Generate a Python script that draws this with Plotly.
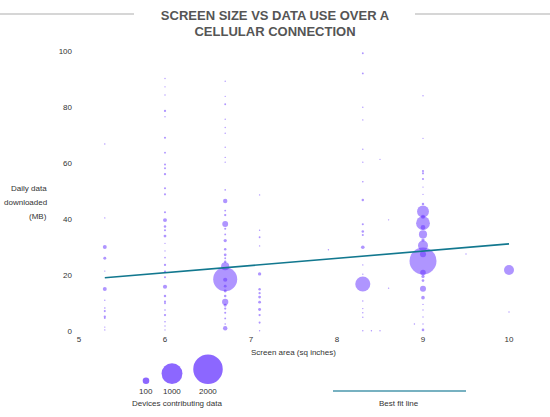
import numpy as np
import plotly.graph_objects as go

# ---------------- data ----------------
# screen area (sq inches), daily MB, devices contributing
col_53_y = [66.8, 40.4, 30, 26, 21.4, 15, 11, 8.2, 7.1, 5.1, 4.6, 1.4, 0.4]
col_53_n = [1, 2, 36, 20, 3, 36, 1, 6, 10, 12, 8, 4, 2]

col_60_y = [90.2, 87.2, 84.3, 78.6, 76.5, 69, 63.7, 59.5, 58.1, 56, 51, 48.8, 42.4, 39.6, 37.3, 36,
            33.9, 31.3, 28.6, 26.2, 23.6, 21.2, 19.2, 15.8, 12.5, 10.5, 9.9, 7.5, 5.7, 3.3, 1.8, 0.4]
col_60_n = [3, 2, 3, 12, 2, 10, 8, 9, 9, 12, 10, 10, 10, 36, 14, 10,
            18, 4, 4, 6, 12, 12, 10, 40, 14, 10, 8, 6, 12, 6, 4, 4]

col_67_y = [100.6, 89.2, 83.8, 81, 75.6, 72.7, 70.6, 65.6, 62, 60.3, 50.4, 46.4, 43, 41.4, 38.2, 36.5,
            34.5, 32.3, 29.2, 27.2, 26, 24.7, 23.1, 18.5, 18.3, 16, 14.3, 12.5, 10.4, 9.2, 8, 6.5,
            4.5, 2.5, 1.0]
col_67_n = [6, 2, 4, 8, 2, 4, 4, 4, 4, 4, 6, 45, 8, 12, 80, 10,
            8, 24, 14, 18, 8, 14, 150, 1320, 40, 18, 20, 14, 90, 18, 12, 10,
            8, 6, 45]

col_71_y = [48.6, 36, 33.5, 30.4, 20.4, 14.9, 13.5, 12.1, 10.3, 7.7, 5.7, 3, 0.1]
col_71_n = [1, 2, 8, 2, 26, 14, 12, 18, 18, 20, 12, 10, 2]

col_83_y = [99.2, 92, 79.9, 75.4, 64.9, 60.3, 53.3, 46.8, 38.1, 35.5, 34.3, 29.9, 23.6, 20.3, 16.8,
            10.7, 8, 6.5, 4.9, 0.1]
col_83_n = [8, 8, 2, 2, 2, 2, 6, 14, 10, 14, 10, 30, 2, 2, 520,
            2, 2, 2, 2, 2]

col_90_y = [84, 68.8, 57.1, 56.3, 54.3, 51.4, 48.8, 45.4, 42.7, 40.8, 38.5, 37, 34.5, 32.5, 30.5,
            27.4, 25, 20.9, 19.5, 18, 15.1, 11.9, 9.5, 7.5, 5, 2.5, 0.4]
col_90_n = [4, 4, 10, 10, 10, 2, 2, 14, 330, 40, 440, 50, 150, 24, 230,
            83, 1670, 70, 24, 16, 83, 30, 4, 4, 4, 2, 16]

col_100_y = [21.8, 6.8]
col_100_n = [230, 1]

stray_x = [7.9, 8.4, 8.5, 8.5, 8.6, 8.6, 8.9, 9.5]
stray_y = [29, 0.1, 0.1, 61.3, 39.7, 15.3, 2.5, 27.5]
stray_n = [1, 1, 1, 1, 1, 1, 1, 1]

fit_x = [5.3, 10.0]
fit_y = [19.0, 31.1]

x_ticks = [5, 6, 7, 8, 9, 10]
y_ticks = [0, 20, 40, 60, 80, 100]
legend_counts = [100, 1000, 2000]

# ---------------- assemble ----------------
cols = [(5.3, col_53_y, col_53_n), (6.0, col_60_y, col_60_n), (6.7, col_67_y, col_67_n),
        (7.1, col_71_y, col_71_n), (8.3, col_83_y, col_83_n), (9.0, col_90_y, col_90_n),
        (10.0, col_100_y, col_100_n)]
xs, ys, ns = [], [], []
for cx, cy, cn in cols:
    xs += [cx] * len(cy)
    ys += cy
    ns += cn
xs += stray_x
ys += stray_y
ns += stray_n
xs = np.array(xs); ys = np.array(ys); ns = np.array(ns, dtype=float)

K = 0.66  # px diameter per sqrt(device)
def diam(n):
    return np.maximum(K * np.sqrt(np.asarray(n, dtype=float)), 1.4)

# draw large bubbles first so small dots sit on top
order = np.argsort(-ns)

W, H = 550, 417
PLOT_L, PLOT_R, PLOT_T, PLOT_B = 79, 535, 51, 331   # plot area in pixels
PX_PER_UNIT = 86.0

# paper now spans the whole figure (zero margins)
def px(xp):
    return xp / W
def py(yp):
    return (H - yp) / H

BUB = "rgba(100,50,255,0.74)"
TXT = "#333333"

fig = go.Figure()
fig.add_trace(go.Scatter(
    x=xs[order], y=ys[order], mode="markers",
    marker=dict(size=diam(ns[order]), sizemode="diameter", color=BUB, line=dict(width=0)),
    cliponaxis=False, showlegend=False, hoverinfo="x+y+text", text=[f"{int(v)} devices" for v in ns[order]],
))
fig.add_trace(go.Scatter(
    x=fit_x, y=fit_y, mode="lines", line=dict(color="#12788f", width=1.6),
    showlegend=False, hoverinfo="skip",
))

shapes = []
annotations = []

# title rules
for x0, x1 in [(0, 134), (415, 550)]:
    shapes.append(dict(type="line", xref="paper", yref="paper",
                       x0=px(x0), x1=px(x1), y0=py(14), y1=py(14),
                       line=dict(color="#c8c8c8", width=1.4)))

# size legend
base = 384
lx = [146, 172, 208]
for cx, n in zip(lx, legend_counts):
    r = K * np.sqrt(n) / 2
    shapes.append(dict(type="circle", xref="paper", yref="paper", xsizemode="pixel", ysizemode="pixel",
                       xanchor=px(cx), yanchor=py(base - r), x0=-r, x1=r, y0=-r, y1=r,
                       fillcolor=BUB, line=dict(width=0)))
    annotations.append(dict(x=px(cx), y=py(391), xref="paper", yref="paper", text=str(n),
                            showarrow=False, font=dict(size=8, color=TXT), xanchor="center", yanchor="middle"))
annotations.append(dict(x=px(177), y=py(403), xref="paper", yref="paper", text="Devices contributing data",
                        showarrow=False, font=dict(size=8, color=TXT), xanchor="center", yanchor="middle"))

# best fit legend
shapes.append(dict(type="line", xref="paper", yref="paper", x0=px(333), x1=px(466), y0=py(391), y1=py(391),
                   line=dict(color="#4a97ac", width=1.6)))
annotations.append(dict(x=px(399), y=py(403), xref="paper", yref="paper", text="Best fit line",
                        showarrow=False, font=dict(size=8, color=TXT), xanchor="center", yanchor="middle"))

# axis titles
annotations.append(dict(x=px(293), y=py(352), xref="paper", yref="paper", text="Screen area (sq inches)",
                        showarrow=False, font=dict(size=8, color=TXT), xanchor="center", yanchor="middle"))
for t, yy in [("Daily data", 188), ("downloaded", 202), ("(MB)", 216)]:
    annotations.append(dict(x=px(49), y=py(yy), xref="paper", yref="paper", text=t,
                            showarrow=False, font=dict(size=8, color=TXT), xanchor="right", yanchor="middle"))

fig.update_layout(
    width=W, height=H,
    margin=dict(l=0, r=0, t=0, b=0, autoexpand=False),
    paper_bgcolor="white", plot_bgcolor="white",
    font=dict(family="Liberation Sans, Arial, sans-serif", color=TXT),
    title=dict(text="SCREEN SIZE VS DATA USE OVER A<br>CELLULAR CONNECTION",
               x=0.5, xanchor="center", y=1 - 19.5 / H, yanchor="middle",
               font=dict(size=13, color="#555555", family="Liberation Sans, Arial, sans-serif", weight="bold")),
    xaxis=dict(domain=[px(PLOT_L), px(PLOT_R)],
               range=[5, 5 + (PLOT_R - PLOT_L) / PX_PER_UNIT], tickvals=x_ticks, showgrid=False, zeroline=False,
               showline=False, ticks="", tickfont=dict(size=8, color=TXT), automargin=False,
               ticklabelstandoff=2),
    yaxis=dict(domain=[py(PLOT_B), py(PLOT_T)],
               range=[0, 100], tickvals=y_ticks, showgrid=False, zeroline=False, showline=False,
               ticks="", tickfont=dict(size=8, color=TXT), automargin=False, ticklabelstandoff=6),
    shapes=shapes, annotations=annotations, showlegend=False,
)

fig.write_html("out.html", config={"displayModeBar": False},
               post_script="document.body.style.margin='0';document.body.style.overflow='hidden';")
